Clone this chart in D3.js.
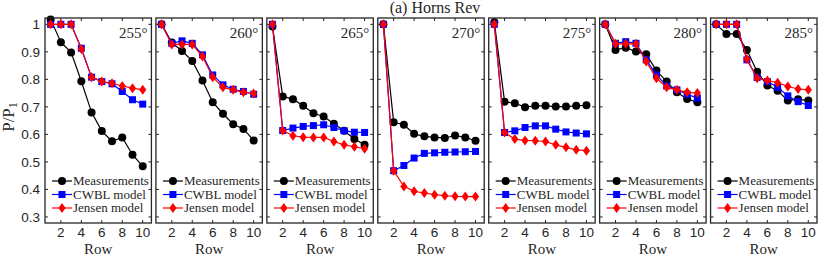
<!DOCTYPE html>
<html>
<head>
<meta charset="utf-8">
<script src="https://cdn.jsdelivr.net/npm/d3@7"></script>
<style>
  body { margin: 0; background: #fff; }
  svg { display: block; }
  .tick-lbl { font-family: "Liberation Sans", Arial, sans-serif; font-size: 13.5px; fill: #262626; }
  .serif { font-family: "Liberation Serif", "DejaVu Serif", serif; fill: #262626; }
</style>
</head>
<body>
<script>
// panel angles (wind direction)
var angles = ["255°", "260°", "265°", "270°", "275°", "280°", "285°"];
var rows = [1, 2, 3, 4, 5, 6, 7, 8, 9, 10];
var xTicks = [2, 4, 6, 8, 10];
var yTicks = [0.3, 0.4, 0.5, 0.6, 0.7, 0.8, 0.9, 1];

// P/P1 per row, one array per panel
var measurements = [
  [1.018, 0.935, 0.898, 0.793, 0.680, 0.612, 0.575, 0.589, 0.526, 0.484],
  [1.000, 0.934, 0.903, 0.867, 0.796, 0.717, 0.675, 0.637, 0.620, 0.578],
  [0.992, 0.738, 0.728, 0.704, 0.677, 0.665, 0.639, 0.613, 0.583, 0.562],
  [1.000, 0.644, 0.635, 0.602, 0.593, 0.589, 0.587, 0.596, 0.589, 0.577],
  [1.008, 0.719, 0.713, 0.699, 0.704, 0.704, 0.701, 0.701, 0.704, 0.706],
  [1.000, 0.907, 0.915, 0.901, 0.891, 0.832, 0.792, 0.753, 0.729, 0.717],
  [1.000, 0.965, 0.965, 0.907, 0.828, 0.778, 0.759, 0.723, 0.728, 0.723]
];
var cwbl = [
  [1.000, 1.000, 1.000, 0.913, 0.808, 0.792, 0.784, 0.756, 0.726, 0.710],
  [1.000, 0.931, 0.940, 0.931, 0.889, 0.816, 0.780, 0.764, 0.756, 0.746],
  [1.000, 0.614, 0.623, 0.629, 0.632, 0.635, 0.625, 0.613, 0.608, 0.607],
  [1.000, 0.468, 0.487, 0.514, 0.531, 0.533, 0.535, 0.536, 0.537, 0.538],
  [1.000, 0.607, 0.613, 0.625, 0.631, 0.631, 0.619, 0.609, 0.605, 0.602],
  [1.000, 0.931, 0.937, 0.931, 0.871, 0.816, 0.776, 0.762, 0.746, 0.732],
  [1.000, 1.000, 1.000, 0.871, 0.807, 0.792, 0.771, 0.740, 0.719, 0.705]
];
var jensen = [
  [1.000, 1.000, 1.000, 0.910, 0.808, 0.792, 0.786, 0.776, 0.768, 0.762],
  [1.000, 0.927, 0.927, 0.927, 0.883, 0.808, 0.771, 0.762, 0.753, 0.749],
  [1.000, 0.614, 0.595, 0.590, 0.589, 0.589, 0.574, 0.562, 0.555, 0.548],
  [1.000, 0.468, 0.411, 0.393, 0.387, 0.381, 0.377, 0.375, 0.374, 0.374],
  [1.000, 0.607, 0.583, 0.578, 0.577, 0.574, 0.562, 0.553, 0.544, 0.541],
  [1.000, 0.929, 0.929, 0.929, 0.865, 0.804, 0.771, 0.762, 0.753, 0.750],
  [1.000, 1.000, 1.000, 0.874, 0.804, 0.796, 0.788, 0.774, 0.765, 0.762]
];
var seriesNames = ["Measurements", "CWBL model", "Jensen model"];
var seriesColors = ["#000000", "#0000ff", "#ff0000"];

var W = 822, H = 256;
var plotLeft = 45, plotRight = 817, plotTop = 18, plotBottom = 223, gap = 4.5;
var pw = (plotRight - plotLeft - gap * 6) / 7;

var svg = d3.select("body").append("svg")
  .attr("width", W).attr("height", H);

var x = d3.scaleLinear().domain([0.45, 10.85]).range([0, pw]);
var y = d3.scaleLinear().domain([0.278, 1.023]).range([plotBottom, plotTop]);

// marker drawing per series
function drawMarker(sel, k) {
  if (k === 0) {
    sel.append("circle").attr("r", 4).attr("fill", seriesColors[0]);
  } else if (k === 1) {
    sel.append("rect").attr("x", -3.5).attr("y", -3.5).attr("width", 7).attr("height", 7)
      .attr("fill", seriesColors[1]);
  } else {
    sel.append("path").attr("d", "M0,-5L3.6,0L0,5L-3.6,0Z").attr("fill", seriesColors[2]);
  }
}

var line = d3.line()
  .x(function(d, i) { return x(rows[i]); })
  .y(function(d) { return y(d); });

angles.forEach(function(ang, p) {
  var g = svg.append("g").attr("transform", "translate(" + (plotLeft + p * (pw + gap)) + ",0)");

  // ticks inward on all four sides
  xTicks.forEach(function(t) {
    g.append("line").attr("x1", x(t)).attr("x2", x(t)).attr("y1", plotBottom).attr("y2", plotBottom - 3)
      .attr("stroke", "#262626").attr("stroke-width", 1);
    g.append("line").attr("x1", x(t)).attr("x2", x(t)).attr("y1", plotTop).attr("y2", plotTop + 3)
      .attr("stroke", "#262626").attr("stroke-width", 1);
    g.append("text").attr("class", "tick-lbl").attr("x", x(t)).attr("y", 237)
      .attr("text-anchor", "middle").text(t);
  });
  yTicks.forEach(function(t) {
    g.append("line").attr("x1", 0).attr("x2", 3).attr("y1", y(t)).attr("y2", y(t))
      .attr("stroke", "#262626").attr("stroke-width", 1);
    g.append("line").attr("x1", pw).attr("x2", pw - 3).attr("y1", y(t)).attr("y2", y(t))
      .attr("stroke", "#262626").attr("stroke-width", 1);
    if (p === 0) {
      g.append("text").attr("class", "tick-lbl").attr("x", -5).attr("y", y(t)).attr("dy", "0.35em")
        .attr("text-anchor", "end").text(t === 1 ? "1" : t.toFixed(1));
    }
  });

  // series lines + markers
  var data = [measurements[p], cwbl[p], jensen[p]];
  data.forEach(function(vals, k) {
    g.append("path").datum(vals).attr("d", line)
      .attr("fill", "none").attr("stroke", seriesColors[k]).attr("stroke-width", 1.2);
    vals.forEach(function(v, i) {
      var m = g.append("g").attr("transform", "translate(" + x(rows[i]) + "," + y(v) + ")");
      drawMarker(m, k);
    });
  });

  // legend (the 270 panel has none)
  if (p !== 3) {
    var legY = [181, 194.5, 208];
    seriesNames.forEach(function(name, k) {
      g.append("line").attr("x1", 7).attr("x2", 27).attr("y1", legY[k]).attr("y2", legY[k])
        .attr("stroke", seriesColors[k]).attr("stroke-width", 1.2);
      var m = g.append("g").attr("transform", "translate(17," + legY[k] + ")");
      drawMarker(m, k);
      g.append("text").attr("class", "serif").attr("x", 28).attr("y", legY[k]).attr("dy", "0.33em")
        .style("font-size", "13px").text(name);
    });
  }

  // angle label
  g.append("text").attr("class", "serif").attr("x", pw - 4).attr("y", 38)
    .attr("text-anchor", "end").style("font-size", "15px").text(ang);

  // frame
  g.append("rect").attr("x", 0).attr("y", plotTop).attr("width", pw).attr("height", plotBottom - plotTop)
    .attr("fill", "none").attr("stroke", "#262626").attr("stroke-width", 1.3);

  // x label
  g.append("text").attr("class", "serif").attr("x", pw / 2).attr("y", 254)
    .attr("text-anchor", "middle").style("font-size", "15px").text("Row");
});

// title
svg.append("text").attr("class", "serif").attr("x", 435).attr("y", 13)
  .attr("text-anchor", "middle").style("font-size", "16px").text("(a) Horns Rev");

// y label P/P1
var yl = svg.append("text").attr("class", "serif")
  .attr("transform", "translate(14,117) rotate(-90)")
  .attr("text-anchor", "middle").style("font-size", "17px");
yl.append("tspan").text("P/P");
yl.append("tspan").attr("dy", 3).style("font-size", "12px").text("1");
</script>
</body>
</html>
